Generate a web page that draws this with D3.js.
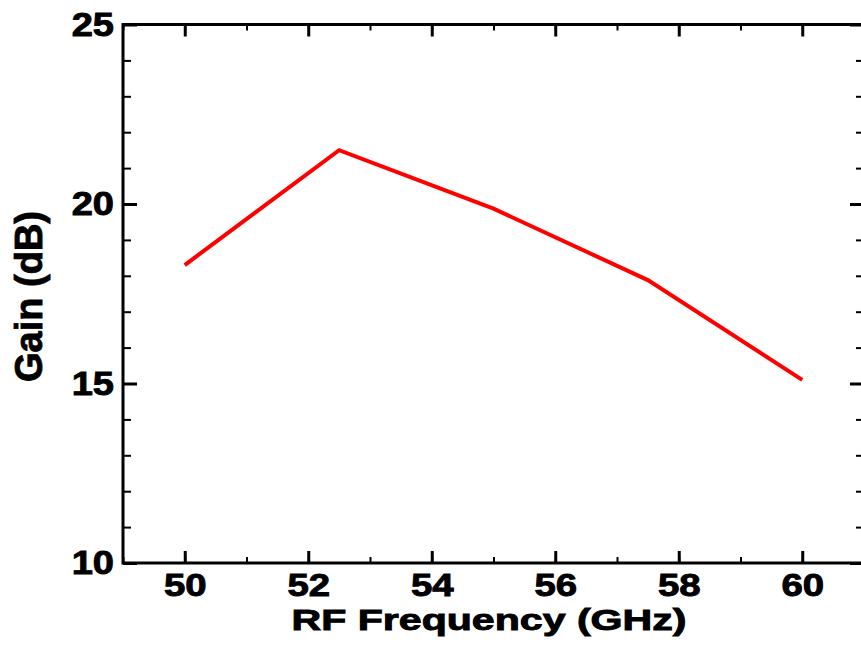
<!DOCTYPE html>
<html lang="en">
<head>
    <meta charset="UTF-8">
    <title>Gain vs RF Frequency</title>
    <script src="https://d3js.org/d3.v7.min.js"></script>
    <style>
        body{
            margin: 0;
            background: #fff;
        }
        .tick text, .title{
            font-family: "Liberation Sans", Arial, sans-serif;
            font-weight: bold;
            fill: #000;
            stroke: #000;
            stroke-width: 0.9px;
        }
    </style>
</head>
<body>
<svg id="canvas" width="861" height="651"></svg>
<script>
    // data
    const freq = [50, 52.5, 55, 57.5, 60];
    const gain = [18.3, 21.5, 19.87, 17.88, 15.1];
    const xTicks = [50, 52, 54, 56, 58, 60];
    const yTicks = [10, 15, 20, 25];

    const svg = d3.select("#canvas");
    const mLeft = 123, mRight = 864, mTop = 24.5, mBottom = 563;

    const x = d3.scaleLinear().domain([49, 61]).range([mLeft, mRight]);
    const y = d3.scaleLinear().domain([10, 25]).range([mBottom, mTop]);

    const xMinor = d3.range(49, 61.01, 1);
    const yMinor = d3.range(10, 25.01, 1);

    // the original type is wide and heavy, so the glyphs get stretched sideways
    const stretch = 1.2;

    // minor ticks first, then major ticks and labels
    function minorAxis(axis, vals, tr, len){
        svg.append("g").attr("transform", tr)
            .call(axis.tickValues(vals).tickSize(len).tickFormat(""))
            .call(g => g.select(".domain").remove())
            .selectAll("line").attr("stroke", "#000").attr("stroke-width", 2);
    }
    minorAxis(d3.axisTop(x), xMinor, `translate(0,${mBottom})`, 6);
    minorAxis(d3.axisBottom(x), xMinor, `translate(0,${mTop})`, 6);
    minorAxis(d3.axisRight(y), yMinor, `translate(${mLeft},0)`, 8);
    minorAxis(d3.axisLeft(y), yMinor, `translate(${mRight},0)`, 8);

    function majorAxis(axis, vals, tr, len, labels){
        const g = svg.append("g").attr("transform", tr)
            .call(axis.tickValues(vals).tickSize(len).tickPadding(0).tickFormat(labels ? d3.format("d") : ""));
        g.select(".domain").remove();
        g.selectAll("line").attr("stroke", "#000").attr("stroke-width", 3);
        return g;
    }
    const gx = majorAxis(d3.axisTop(x), xTicks, `translate(0,${mBottom})`, 12, true);
    gx.selectAll("text")
        .attr("x", 0).attr("y", 0).attr("dy", 0)
        .attr("text-anchor", "middle")
        .attr("font-size", 32)
        .attr("transform", `translate(0,33) scale(${stretch},1)`);
    majorAxis(d3.axisBottom(x), xTicks, `translate(0,${mTop})`, 12, false);

    const gy = majorAxis(d3.axisRight(y), yTicks, `translate(${mLeft},0)`, 14, true);
    gy.selectAll("text")
        .attr("x", 0).attr("y", 0).attr("dy", 0)
        .attr("text-anchor", "end")
        .attr("font-size", 33)
        .attr("transform", `translate(-9,10.5) scale(${stretch * 0.96},1)`);
    majorAxis(d3.axisLeft(y), yTicks, `translate(${mRight},0)`, 14, false);

    // frame
    svg.append("rect")
        .attr("x", mLeft).attr("y", mTop)
        .attr("width", mRight - mLeft).attr("height", mBottom - mTop)
        .attr("fill", "none").attr("stroke", "#000").attr("stroke-width", 3);

    // gain curve
    const line = d3.line().x(d => x(d[0])).y(d => y(d[1]));
    svg.append("path")
        .datum(d3.zip(freq, gain))
        .attr("d", line)
        .attr("fill", "none")
        .attr("stroke", "#ff0000")
        .attr("stroke-width", 4);

    // axis titles
    svg.append("text").attr("class", "title")
        .attr("transform", "translate(489,630) scale(1.37,1)")
        .attr("text-anchor", "middle").attr("font-size", 30)
        .text("RF Frequency (GHz)");
    svg.append("text").attr("class", "title")
        .attr("transform", "translate(42,296.5) rotate(-90)")
        .attr("text-anchor", "middle").attr("font-size", 38)
        .text("Gain (dB)");
</script>
</body>
</html>
